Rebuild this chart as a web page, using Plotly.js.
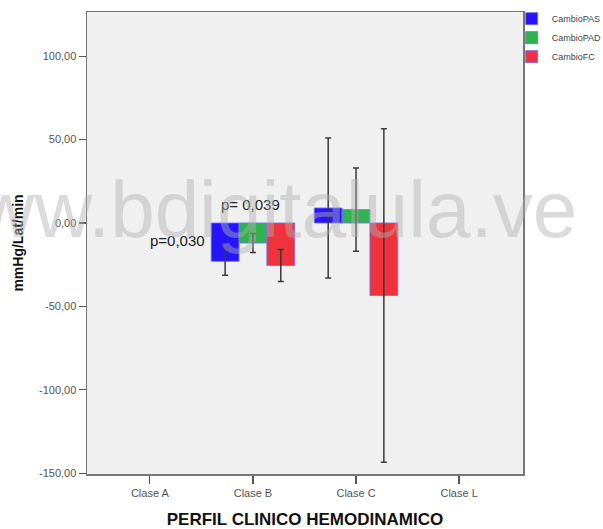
<!DOCTYPE html>
<html>
<head>
<meta charset="utf-8">
<script src="https://cdn.plot.ly/plotly-3.0.1.min.js"></script>
<style>html,body{margin:0;padding:0;background:#fff;}#chart{width:603px;height:529px;}</style>
</head>
<body>
<div id="chart"></div>
<script>
// Data
const categories = ['Clase A', 'Clase B', 'Clase C', 'Clase L'];
const cambioPAS = [null, -23, 9, null];
const cambioPAD = [null, -12, 8, null];
const cambioFC  = [null, -25.5, -43.5, null];
const errPAS = [null, 8.4, 42, null];
const errPAD = [null, 5.7, 25, null];
const errFC  = [null, 9.6, 100, null];
const seriesNames = ['CambioPAS', 'CambioPAD', 'CambioFC'];
const yTickVals = [-150, -100, -50, 0, 50, 100];
const yTickText = ['-150,00', '-100,00', '-50,00', '0,00', '50,00', '100,00'];
const pLabels = [
  {cat: 'Clase B', shift: -0.73, y: -10.4, text: 'p=0,030'},
  {cat: 'Clase B', shift: -0.02, y: 11.2, text: 'p= 0,039'}
];

const colors = ['#2414ff', '#2fb34c', '#ef323b'];
const values = [cambioPAS, cambioPAD, cambioFC];
const errs = [errPAS, errPAD, errFC];

const traces = values.map((v, i) => ({
  type: 'bar',
  name: seriesNames[i],
  x: categories,
  y: v,
  marker: {color: colors[i], line: {color: 'rgba(110,110,255,0.85)', width: 1}},
  error_y: {type: 'data', array: errs[i], visible: true, color: '#3a3a3a', thickness: 1.5, width: 3}
}));

const catIndex = c => categories.indexOf(c);

const annotations = pLabels.map(p => ({
  x: catIndex(p.cat) + p.shift, y: p.y, xref: 'x', yref: 'y',
  text: p.text, showarrow: false,
  font: {family: 'Liberation Sans, Arial, sans-serif', size: 15, color: '#222'},
  xanchor: 'center', yanchor: 'middle'
}));
annotations.push({
  xref: 'paper', yref: 'paper', x: 1.128, y: 0.572,
  xanchor: 'right', yanchor: 'middle',
  text: 'www.bdigitalula.ve', showarrow: false,
  font: {family: 'Liberation Sans, Arial, sans-serif', size: 80, color: 'rgba(175,175,175,0.45)'}
});

const layout = {
  width: 603, height: 529,
  margin: {l: 87, r: 80, t: 12, b: 55, autoexpand: false},
  paper_bgcolor: '#ffffff',
  plot_bgcolor: '#f0f0f0',
  barmode: 'group',
  bargap: 0.19,
  bargroupgap: 0,
  showlegend: true,
  legend: {
    x: 0.974, y: 1.017, xanchor: 'left', yanchor: 'top',
    bgcolor: 'rgba(0,0,0,0)',
    font: {family: 'Liberation Sans, Arial, sans-serif', size: 9, color: '#444'},
    itemwidth: 30, tracegroupgap: 0
  },
  xaxis: {
    type: 'category',
    categoryarray: categories,
    range: [-0.61, 3.62],
    showline: true, mirror: true, linecolor: '#777', linewidth: 1.5,
    ticks: 'outside', ticklen: 8, tickcolor: '#555', tickwidth: 1.2,
    tickfont: {family: 'Liberation Sans, Arial, sans-serif', size: 11, color: '#555'},
    showgrid: false, zeroline: false, fixedrange: true,
    title: {text: 'PERFIL CLINICO HEMODINAMICO', standoff: 19,
      font: {family: 'Liberation Sans, Arial, sans-serif', size: 17, color: '#111', weight: 'bold'}}
  },
  yaxis: {
    range: [-150.5, 126.5],
    tickvals: yTickVals, ticktext: yTickText,
    showline: true, mirror: true, linecolor: '#777', linewidth: 1.5,
    ticks: 'outside', ticklen: 7, tickcolor: '#555', tickwidth: 1.2,
    tickfont: {family: 'Liberation Sans, Arial, sans-serif', size: 11, color: '#555'},
    showgrid: false, zeroline: false, fixedrange: true,
    title: {text: 'mmHg/Lat/min', standoff: 12,
      font: {family: 'Liberation Sans, Arial, sans-serif', size: 14, color: '#111', weight: 'bold'}}
  },
  annotations: annotations
};

Plotly.newPlot('chart', traces, layout, {displayModeBar: false, staticPlot: true});
</script>
</body>
</html>
